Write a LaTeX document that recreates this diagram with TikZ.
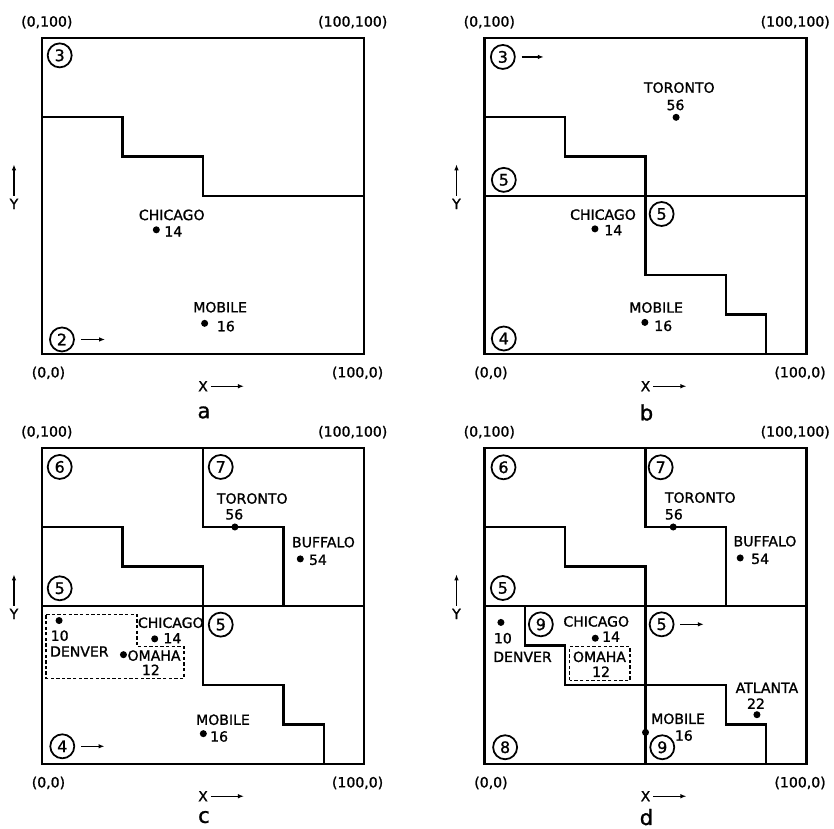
\documentclass[tikz,border=0pt]{standalone}
\usepackage{fontspec}
\newfontfamily\lettering[FakeBold=1.2]{DejaVu Sans}
\usetikzlibrary{arrows.meta}

\tikzset{
  map/.style={x=0.0644cm, y=0.0632cm},
  part/.style={line width=1.3pt, line join=miter},
  ovfl/.style={line width=0.8pt, dash pattern=on 1.9pt off 1.3pt},
  city/.style={circle, fill, inner sep=0pt, minimum size=4pt},
  lbl/.style={font=\lettering\fontsize{8}{9}\selectfont, inner sep=0pt},
  bkt/.style={circle, draw, line width=1pt, inner sep=0pt, minimum size=0.48cm,
    font=\lettering\fontsize{9}{10}\selectfont},
  dir/.style={line width=0.7pt, -{Latex[length=3.4pt,width=2.6pt]}},
  tag/.style={font=\lettering\fontsize{12}{13}\selectfont, inner sep=0pt}
}

\begin{document}
\begin{tikzpicture}
\useasboundingbox (0,0) rectangle (16.68cm,16.56cm);

%%%%%%%%%%%%%%%% panel a
\begin{scope}[shift={(0.84cm,9.48cm)}, map]
	% frame
	\draw[part] (0,0) rectangle (100,100);
	\node[lbl] (a-ul) at (1.5,105) {(0,100)};
	\node[lbl] (a-ur) at (96.5,105) {(100,100)};
	\node[lbl] (a-ll) at (2,-6) {(0,0)};
	\node[lbl] (a-lr) at (98,-6) {(100,0)};
	% axes
	\node[lbl] (a-y) at (-8.7,47.5) {Y};
	\coordinate (a-ytip) at (-8.7,60);
	\draw[dir, shorten <=1.5pt] (a-y) -- (a-ytip);
	\node[lbl] (a-x) at (50,-10.2) {X};
	\coordinate (a-xtip) at (62.7,-10.2);
	\draw[dir, shorten <=1.5pt] (a-x) -- (a-xtip);
	\node[tag] (a-tag) at (50.3,-18.5) {a};

	% partition
	\draw[part] (0,75) -- (25,75) -- (25,62.5) -- (50,62.5) -- (50,50) -- (100,50);

	% buckets
	\node[bkt] (a3) at (5.5,94.5) {3};
	\node[bkt] (a2) at (6.2,4.6) {2};
	\coordinate (a2-dir) at (19.6,4.6);
	\draw[dir, shorten <=3.4pt] (a2) -- (a2-dir);

	% Chicago
	\node[city] (a-chi) at (35.5,39.3) {};
	\node[lbl] (a-chi-name) at (40.3,44) {CHICAGO};
	\node[lbl] (a-chi-no) at (40.8,38.8) {14};
	% Mobile
	\node[city] (a-mob) at (50.5,9.7) {};
	\node[lbl] (a-mob-name) at (55.3,14.8) {MOBILE};
	\node[lbl] (a-mob-no) at (57.1,8.8) {16};
\end{scope}

%%%%%%%%%%%%%%%% panel b
\begin{scope}[shift={(9.69cm,9.48cm)}, map]
	% frame
	\draw[part] (0,0) rectangle (100,100);
	\node[lbl] (b-ul) at (1.5,105) {(0,100)};
	\node[lbl] (b-ur) at (96.5,105) {(100,100)};
	\node[lbl] (b-ll) at (2,-6) {(0,0)};
	\node[lbl] (b-lr) at (98,-6) {(100,0)};
	% axes
	\node[lbl] (b-y) at (-8.7,47.5) {Y};
	\coordinate (b-ytip) at (-8.7,60);
	\draw[dir, shorten <=1.5pt] (b-y) -- (b-ytip);
	\node[lbl] (b-x) at (50,-10.2) {X};
	\coordinate (b-xtip) at (62.7,-10.2);
	\draw[dir, shorten <=1.5pt] (b-x) -- (b-xtip);
	\node[tag] (b-tag) at (50.3,-18.5) {b};

	% partition
	\draw[part] (0,50) -- (100,50);
	\draw[part] (0,75) -- (25,75) -- (25,62.5) -- (50,62.5) -- (50,25) -- (75,25)
		-- (75,12.5) -- (87.5,12.5) -- (87.5,0);

	% buckets
	\node[bkt] (b3) at (5.7,94) {3};
	\coordinate (b3-dir) at (18.4,94);
	\draw[dir, shorten <=3.4pt] (b3) -- (b3-dir);
	\node[bkt] (b5l) at (6,55.1) {5};
	\node[bkt] (b5r) at (55,44.3) {5};
	\node[bkt] (b4) at (6,4.9) {4};

	% Toronto
	\node[city] (b-tor) at (59.5,74.9) {};
	\node[lbl] (b-tor-name) at (60.5,84.3) {TORONTO};
	\node[lbl] (b-tor-no) at (59.3,78.8) {56};
	% Chicago
	\node[city] (b-chi) at (34.3,39.6) {};
	\node[lbl] (b-chi-name) at (36.8,44.1) {CHICAGO};
	\node[lbl] (b-chi-no) at (40,39.2) {14};
	% Mobile
	\node[city] (b-mob) at (49.8,10) {};
	\node[lbl] (b-mob-name) at (53.3,14.7) {MOBILE};
	\node[lbl] (b-mob-no) at (55.5,8.9) {16};
\end{scope}

%%%%%%%%%%%%%%%% panel c
\begin{scope}[shift={(0.84cm,1.28cm)}, map]
	% frame
	\draw[part] (0,0) rectangle (100,100);
	\node[lbl] (c-ul) at (1.5,105) {(0,100)};
	\node[lbl] (c-ur) at (96.5,105) {(100,100)};
	\node[lbl] (c-ll) at (2,-6) {(0,0)};
	\node[lbl] (c-lr) at (98,-6) {(100,0)};
	% axes
	\node[lbl] (c-y) at (-8.7,47.5) {Y};
	\coordinate (c-ytip) at (-8.7,60);
	\draw[dir, shorten <=1.5pt] (c-y) -- (c-ytip);
	\node[lbl] (c-x) at (50,-10.2) {X};
	\coordinate (c-xtip) at (62.7,-10.2);
	\draw[dir, shorten <=1.5pt] (c-x) -- (c-xtip);
	\node[tag] (c-tag) at (50.3,-16.8) {c};

	% partition
	\draw[part] (0,50) -- (100,50);
	\draw[part] (50,100) -- (50,75) -- (75,75) -- (75,50);
	\draw[part] (0,75) -- (25,75) -- (25,62.5) -- (50,62.5) -- (50,25) -- (75,25)
		-- (75,12.5) -- (87.5,12.5) -- (87.5,0);
	% overflow region
	\draw[ovfl] (1.3,47.3) -- (29.5,47.3) -- (29.5,37.2) -- (44.1,37.2)
		-- (44.1,27.1) -- (1.3,27.1) -- cycle;

	% buckets
	\node[bkt] (c6) at (5.5,94) {6};
	\node[bkt] (c7) at (55.5,94) {7};
	\node[bkt] (c5l) at (5.5,55.6) {5};
	\node[bkt] (c5r) at (55.5,44.1) {5};
	\node[bkt] (c4) at (6.3,5.6) {4};
	\coordinate (c4-dir) at (19.4,5.6);
	\draw[dir, shorten <=3.4pt] (c4) -- (c4-dir);

	% Denver
	\node[city] (c-den) at (5.3,45.4) {};
	\node[lbl] (c-den-no) at (5.5,40.6) {10};
	\node[lbl] (c-den-name) at (11.6,35.6) {DENVER};
	% Chicago
	\node[city] (c-chi) at (35,39.6) {};
	\node[lbl] (c-chi-name) at (40,44.7) {CHICAGO};
	\node[lbl] (c-chi-no) at (40.5,39.8) {14};
	% Omaha
	\node[city] (c-oma) at (25.3,34.6) {};
	\node[lbl] (c-oma-name) at (34.8,34.3) {OMAHA};
	\node[lbl] (c-oma-no) at (33.8,29.8) {12};
	% Toronto
	\node[city] (c-tor) at (59.9,75) {};
	\node[lbl] (c-tor-name) at (65.3,84) {TORONTO};
	\node[lbl] (c-tor-no) at (59.7,79) {56};
	% Buffalo
	\node[city] (c-buf) at (80.2,64.9) {};
	\node[lbl] (c-buf-name) at (87.4,70.2) {BUFFALO};
	\node[lbl] (c-buf-no) at (85.7,64.6) {54};
	% Mobile
	\node[city] (c-mob) at (50.1,9.6) {};
	\node[lbl] (c-mob-name) at (56.2,14) {MOBILE};
	\node[lbl] (c-mob-no) at (55,8.7) {16};
\end{scope}

%%%%%%%%%%%%%%%% panel d
\begin{scope}[shift={(9.69cm,1.28cm)}, map]
	% frame
	\draw[part] (0,0) rectangle (100,100);
	\node[lbl] (d-ul) at (1.5,105) {(0,100)};
	\node[lbl] (d-ur) at (96.5,105) {(100,100)};
	\node[lbl] (d-ll) at (2,-6) {(0,0)};
	\node[lbl] (d-lr) at (98,-6) {(100,0)};
	% axes
	\node[lbl] (d-y) at (-8.7,47.5) {Y};
	\coordinate (d-ytip) at (-8.7,60);
	\draw[dir, shorten <=1.5pt] (d-y) -- (d-ytip);
	\node[lbl] (d-x) at (50,-10.2) {X};
	\coordinate (d-xtip) at (62.7,-10.2);
	\draw[dir, shorten <=1.5pt] (d-x) -- (d-xtip);
	\node[tag] (d-tag) at (50.3,-16.8) {d};

	% partition
	\draw[part] (0,50) -- (100,50);
	\draw[part] (50,100) -- (50,75) -- (75,75) -- (75,50);
	\draw[part] (0,75) -- (25,75) -- (25,62.5) -- (50,62.5) -- (50,0);
	\draw[part] (12.5,50) -- (12.5,37.5) -- (25,37.5) -- (25,25) -- (75,25)
		-- (75,12.5) -- (87.5,12.5) -- (87.5,0);
	% overflow region
	\draw[ovfl] (26.4,26.5) rectangle (45.2,37.1);

	% buckets
	\node[bkt] (d6) at (5.9,93.9) {6};
	\node[bkt] (d7) at (54.7,93.9) {7};
	\node[bkt] (d5l) at (5.7,55.7) {5};
	\node[bkt] (d9t) at (17.5,44.2) {9};
	\node[bkt] (d5r) at (55,44.2) {5};
	\coordinate (d5r-dir) at (68.1,44.2);
	\draw[dir, shorten <=3.4pt] (d5r) -- (d5r-dir);
	\node[bkt] (d8) at (6.4,5.3) {8};
	\node[bkt] (d9b) at (55.2,5.3) {9};

	% Denver
	\node[city] (d-den) at (5.1,44.8) {};
	\node[lbl] (d-den-no) at (5.7,39.8) {10};
	\node[lbl] (d-den-name) at (11.8,33.9) {DENVER};
	% Chicago
	\node[city] (d-chi) at (34.4,39.8) {};
	\node[lbl] (d-chi-name) at (34.7,45.1) {CHICAGO};
	\node[lbl] (d-chi-no) at (39.3,40.3) {14};
	% Omaha
	\node[lbl] (d-oma-name) at (35.7,33.9) {OMAHA};
	\node[lbl] (d-oma-no) at (36.2,29.2) {12};
	% Toronto
	\node[city] (d-tor) at (58.6,75) {};
	\node[lbl] (d-tor-name) at (67,84.3) {TORONTO};
	\node[lbl] (d-tor-no) at (58.8,79) {56};
	% Buffalo
	\node[city] (d-buf) at (79.4,65.2) {};
	\node[lbl] (d-buf-name) at (87.1,70.5) {BUFFALO};
	\node[lbl] (d-buf-no) at (85.6,64.9) {54};
	% Atlanta
	\node[city] (d-atl) at (84.6,15.6) {};
	\node[lbl] (d-atl-name) at (87.7,24.1) {ATLANTA};
	\node[lbl] (d-atl-no) at (84.3,19.1) {22};
	% Mobile
	\node[city] (d-mob) at (50,10) {};
	\node[lbl] (d-mob-name) at (60.1,14.3) {MOBILE};
	\node[lbl] (d-mob-no) at (61.9,9) {16};
\end{scope}
\end{tikzpicture}
\end{document}
